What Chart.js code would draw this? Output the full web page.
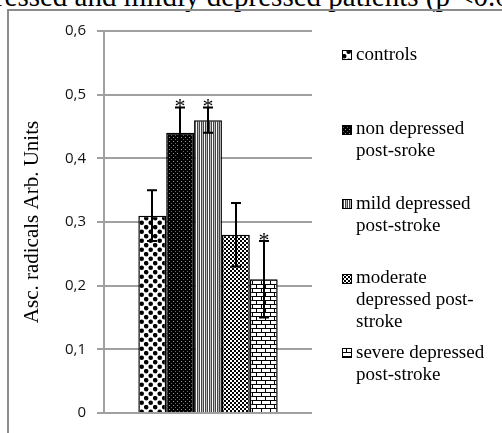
<!DOCTYPE html>
<html>
<head>
<meta charset="utf-8">
<script src="https://cdn.jsdelivr.net/npm/chart.js@4.4.0/dist/chart.umd.min.js"></script>
<style>
html, body { margin: 0; padding: 0; background: #fff; overflow: hidden; }
#wrap { position: relative; width: 502px; height: 433px; overflow: hidden; }
#caption { position: absolute; left: -47px; top: -18px; font: 29px/29px 'Liberation Serif'; white-space: nowrap; color: #000; }
#frame { position: absolute; left: 7px; top: 9px; width: 600px; height: 600px; border: 2px solid #8c8c8c; }
canvas { position: absolute; left: 0; top: 0; }
</style>
</head>
<body>
<div id="wrap">
  <div id="caption">depressed and mildly depressed patients (p &lt;0.05)</div>
  <div id="frame"></div>
  <canvas id="chart" width="502" height="433"></canvas>
</div>
<script>
// data
const groups = ['controls', 'non depressed post-sroke', 'mild depressed post-stroke', 'moderate depressed post-stroke', 'severe depressed post-stroke'];
const legendLines = [['controls'], ['non depressed', 'post-sroke'], ['mild depressed', 'post-stroke'], ['moderate', 'depressed post-', 'stroke'], ['severe depressed', 'post-stroke']];
const means = [0.31, 0.44, 0.46, 0.28, 0.21];
const errors = [0.04, 0.04, 0.02, 0.05, 0.06];
const significant = [false, true, true, false, true];
const yMin = 0, yMax = 0.6, yStep = 0.1;

const SERIF = 'Liberation Serif';

// --- fill patterns ---
function makePattern(kind) {
    const c = document.createElement('canvas');
    const g = c.getContext('2d');
    if (kind === 'dots') {
        c.width = 9; c.height = 9;
        g.fillStyle = '#fff'; g.fillRect(0, 0, 9, 9);
        g.fillStyle = '#000';
        g.beginPath(); g.arc(2.2, 2.2, 2.3, 0, Math.PI * 2); g.fill();
        g.beginPath(); g.arc(6.7, 6.7, 2.3, 0, Math.PI * 2); g.fill();
    } else if (kind === 'dark') {
        c.width = 4; c.height = 4;
        g.fillStyle = '#000'; g.fillRect(0, 0, 4, 4);
        g.fillStyle = '#999'; g.fillRect(1, 1, 1, 1);
        g.fillStyle = '#666'; g.fillRect(3, 3, 1, 1);
    } else if (kind === 'stripes') {
        c.width = 4; c.height = 1;
        ['#fff', '#444', '#bbb', '#444'].forEach((col, i) => { g.fillStyle = col; g.fillRect(i, 0, 1, 1); });
    } else if (kind === 'checker') {
        c.width = 4; c.height = 4;
        g.fillStyle = '#fff'; g.fillRect(0, 0, 4, 4);
        g.fillStyle = '#000'; g.fillRect(0, 0, 2, 2); g.fillRect(2, 2, 2, 2);
    } else {
        c.width = 9; c.height = 8;
        g.fillStyle = '#fff'; g.fillRect(0, 0, 9, 8);
        g.fillStyle = '#000';
        g.fillRect(0, 0, 9, 1); g.fillRect(0, 4, 9, 1);
        g.fillRect(0, 0, 1, 4); g.fillRect(4, 4, 1, 4);
    }
    return g.createPattern(c, 'repeat');
}
const patterns = ['dots', 'dark', 'stripes', 'checker', 'brick'].map(makePattern);

// error bars and stars
const errorBars = {
    id: 'errorBars',
    afterDatasetsDraw(chart) {
        const ctx = chart.ctx, y = chart.scales.y;
        ctx.save();
        ctx.strokeStyle = '#000';
        ctx.lineWidth = 2;
        means.forEach((m, i) => {
            const bar = chart.getDatasetMeta(i).data[0];
            const x = Math.round(bar.x);
            const top = y.getPixelForValue(m + errors[i]);
            const bot = y.getPixelForValue(m - errors[i]);
            ctx.beginPath();
            ctx.moveTo(x, top); ctx.lineTo(x, bot);
            ctx.moveTo(x - 5, top); ctx.lineTo(x + 5, top);
            ctx.moveTo(x - 5, bot); ctx.lineTo(x + 5, bot);
            ctx.stroke();
            if (significant[i]) {
                ctx.fillStyle = '#000';
                ctx.font = '22px "' + SERIF + '"';
                ctx.textAlign = 'center';
                ctx.textBaseline = 'alphabetic';
                ctx.fillText('*', x, top + 6);
            }
        });
        ctx.restore();
    }
};

// legend on the right, evenly spaced like the original
const sideLegend = {
    id: 'sideLegend',
    afterDraw(chart) {
        const ctx = chart.ctx;
        ctx.save();
        ctx.font = '19px "' + SERIF + '"';
        ctx.textAlign = 'left';
        ctx.textBaseline = 'middle';
        legendLines.forEach((lines, i) => {
            const cy = 55 + i * 74.5;
            ctx.fillStyle = patterns[i];
            ctx.fillRect(342, Math.round(cy - 5), 10, 10);
            ctx.strokeStyle = '#000';
            ctx.lineWidth = 1;
            ctx.strokeRect(342.5, Math.round(cy - 5) + 0.5, 9, 9);
            ctx.fillStyle = '#000';
            lines.forEach((t, j) => ctx.fillText(t, 356, cy + j * 22));
        });
        ctx.restore();
    }
};

function draw() {
    const ctx = document.getElementById('chart').getContext('2d');
    new Chart(ctx, {
        type: 'bar',
        data: {
            labels: [''],
            datasets: groups.map((g, i) => ({
                label: g,
                data: [means[i]],
                backgroundColor: patterns[i],
                borderColor: '#000',
                borderWidth: 1.5,
                barPercentage: 1,
                categoryPercentage: 0.67
            }))
        },
        options: {
            responsive: false,
            animation: false,
            devicePixelRatio: 1,
            layout: { padding: { left: 0, top: 31, right: 190, bottom: 15 } },
            plugins: {
                legend: { display: false },
                tooltip: { enabled: false }
            },
            scales: {
                x: { display: false },
                y: {
                    min: yMin,
                    max: yMax,
                    ticks: {
                        stepSize: yStep,
                        padding: 11,
                        color: '#111',
                        font: { family: 'Open Sans', size: 15 },
                        callback: v => v === 0 ? '0' : v.toFixed(1).replace('.', ',')
                    },
                    grid: { color: '#a0a0a0', lineWidth: 2, tickLength: 7 },
                    border: { color: '#a0a0a0', width: 2 },
                    title: {
                        display: true,
                        text: 'Asc. radicals Arb. Units',
                        color: '#000',
                        font: { family: '"' + SERIF + '"', size: 21 },
                        padding: { top: 20, bottom: 0 }
                    },
                    afterFit: s => { s.width = 104; }
                }
            }
        },
        plugins: [errorBars, sideLegend]
    });
}
document.fonts.load('19px "' + SERIF + '"').then(draw, draw);
</script>
</body>
</html>
